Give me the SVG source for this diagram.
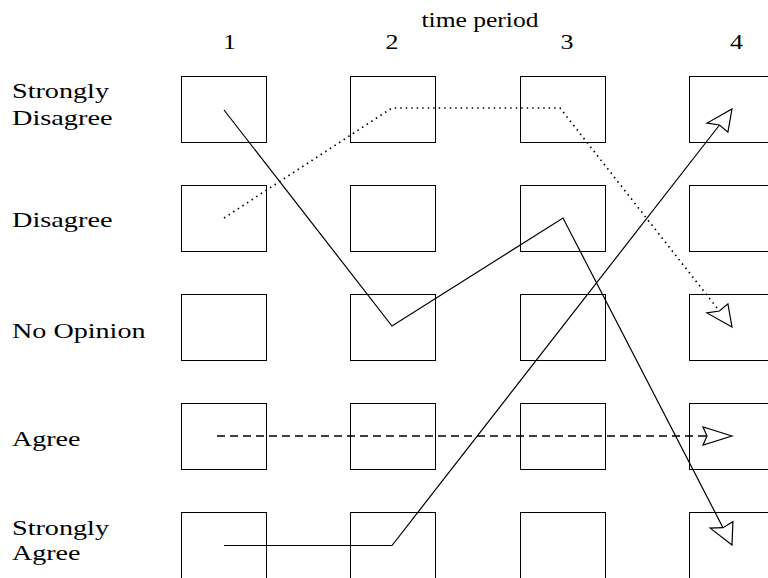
<svg xmlns="http://www.w3.org/2000/svg" width="768" height="578" viewBox="0 0 768 578">
<style>
.box{fill:none;stroke:#000;stroke-width:1}
.lbl{font-family:"Liberation Serif","Times New Roman",serif;font-size:22px;fill:#000}
.ln{fill:none;stroke:#000;stroke-width:1.2;stroke-linejoin:miter}
.dot{stroke-width:1.7;stroke-dasharray:1.5 4}
.dash{stroke-width:1.3;stroke-dasharray:8 5}
.head{fill:#fff;stroke:#000;stroke-width:1.2;stroke-linejoin:miter}
</style>
<rect width="768" height="578" fill="#fff"/>
<g id="header">
<text class="lbl" x="480" y="27" text-anchor="middle" textLength="117" lengthAdjust="spacingAndGlyphs">time period</text>
<text class="lbl" x="229.5" y="49" text-anchor="middle" textLength="13" lengthAdjust="spacingAndGlyphs">1</text>
<text class="lbl" x="392" y="49" text-anchor="middle" textLength="13" lengthAdjust="spacingAndGlyphs">2</text>
<text class="lbl" x="567" y="49" text-anchor="middle" textLength="13" lengthAdjust="spacingAndGlyphs">3</text>
<text class="lbl" x="736.5" y="49" text-anchor="middle" textLength="13" lengthAdjust="spacingAndGlyphs">4</text>
</g>
<g id="row-labels">
<text class="lbl" x="12" y="98" textLength="97" lengthAdjust="spacingAndGlyphs">Strongly</text>
<text class="lbl" x="12" y="125" textLength="100.5" lengthAdjust="spacingAndGlyphs">Disagree</text>
<text class="lbl" x="12" y="226.5" textLength="100.5" lengthAdjust="spacingAndGlyphs">Disagree</text>
<text class="lbl" x="12" y="337.5" textLength="133.5" lengthAdjust="spacingAndGlyphs">No Opinion</text>
<text class="lbl" x="12" y="446" textLength="68.5" lengthAdjust="spacingAndGlyphs">Agree</text>
<text class="lbl" x="12" y="535" textLength="97" lengthAdjust="spacingAndGlyphs">Strongly</text>
<text class="lbl" x="12" y="560" textLength="68.5" lengthAdjust="spacingAndGlyphs">Agree</text>
</g>
<g id="boxes">
<g id="r1c1"><rect class="box" x="181.5" y="76.5" width="85" height="66"/></g>
<g id="r1c2"><rect class="box" x="350.5" y="76.5" width="85" height="66"/></g>
<g id="r1c3"><rect class="box" x="520.5" y="76.5" width="85" height="66"/></g>
<g id="r1c4"><rect class="box" x="689.5" y="76.5" width="85" height="66"/></g>
<g id="r2c1"><rect class="box" x="181.5" y="185.5" width="85" height="66"/></g>
<g id="r2c2"><rect class="box" x="350.5" y="185.5" width="85" height="66"/></g>
<g id="r2c3"><rect class="box" x="520.5" y="185.5" width="85" height="66"/></g>
<g id="r2c4"><rect class="box" x="689.5" y="185.5" width="85" height="66"/></g>
<g id="r3c1"><rect class="box" x="181.5" y="294.5" width="85" height="66"/></g>
<g id="r3c2"><rect class="box" x="350.5" y="294.5" width="85" height="66"/></g>
<g id="r3c3"><rect class="box" x="520.5" y="294.5" width="85" height="66"/></g>
<g id="r3c4"><rect class="box" x="689.5" y="294.5" width="85" height="66"/></g>
<g id="r4c1"><rect class="box" x="181.5" y="403.5" width="85" height="66"/></g>
<g id="r4c2"><rect class="box" x="350.5" y="403.5" width="85" height="66"/></g>
<g id="r4c3"><rect class="box" x="520.5" y="403.5" width="85" height="66"/></g>
<g id="r4c4"><rect class="box" x="689.5" y="403.5" width="85" height="66"/></g>
<g id="r5c1"><rect class="box" x="181.5" y="512.5" width="85" height="66"/></g>
<g id="r5c2"><rect class="box" x="350.5" y="512.5" width="85" height="66"/></g>
<g id="r5c3"><rect class="box" x="520.5" y="512.5" width="85" height="66"/></g>
<g id="r5c4"><rect class="box" x="689.5" y="512.5" width="85" height="66"/></g>
</g>
<g id="connectors">
<polyline class="ln" points="224,110 392,326 563,218 723,527.7"/>
<polygon class="head" points="732,545 710.2,528.1 723,527.7 732.9,521.7"/>
<polyline class="ln" points="224,545.5 392,545.5 719.5,125"/>
<polygon class="head" points="732,109 727.9,132.1 719.5,125 707.1,123.1"/>
<polyline class="ln dot" points="224,218 392,108 560,108 719.4,311"/>
<polygon class="head" points="732,327 706.9,312.9 719.4,311 727.9,303.9"/>
<polyline class="ln dash" points="217,436 707,436"/>
<polygon class="head" points="732,436 703,427 707,436 703,445"/>
</g>
</svg>
